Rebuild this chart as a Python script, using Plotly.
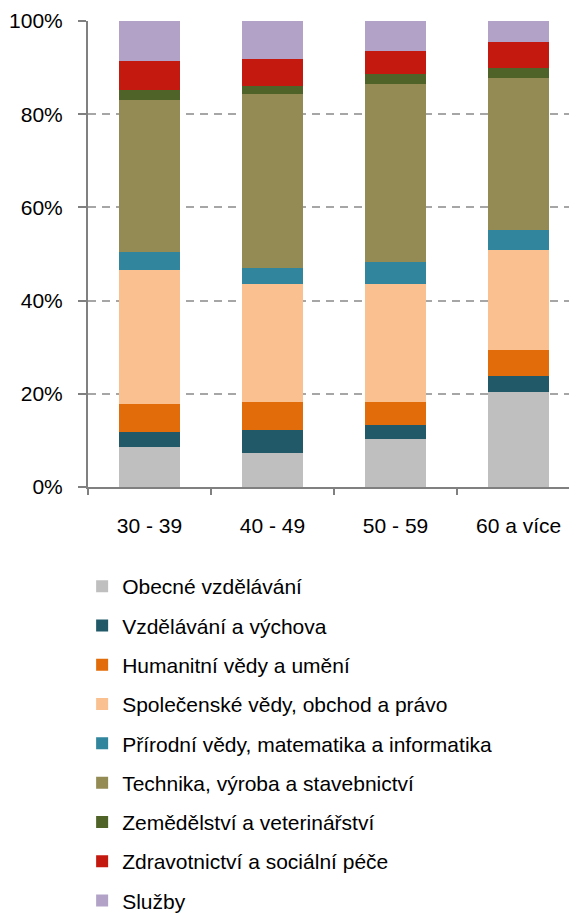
import plotly.graph_objects as go

categories = ['30 - 39', '40 - 49', '50 - 59', '60 a více']

obecne = [8.5, 7.2, 10.2, 20.4]
vzdelavani = [3.4, 5.1, 3.0, 3.5]
humanitni = [6.0, 6.0, 5.1, 5.5]
spolecenske = [28.7, 25.3, 25.3, 21.5]
prirodni = [3.8, 3.4, 4.7, 4.3]
technika = [32.7, 37.3, 38.2, 32.6]
zemedelstvi = [2.1, 1.7, 2.1, 2.1]
zdravotnictvi = [6.3, 5.9, 5.0, 5.5]
sluzby = [8.5, 8.1, 6.4, 4.6]

y_ticks = [0, 20, 40, 60, 80, 100]
y_labels = ['0%', '20%', '40%', '60%', '80%', '100%']

series = [
    ('Obecné vzdělávání', obecne, '#BFBFBF'),
    ('Vzdělávání a výchova', vzdelavani, '#215968'),
    ('Humanitní vědy a umění', humanitni, '#E36C0A'),
    ('Společenské vědy, obchod a právo', spolecenske, '#FAC090'),
    ('Přírodní vědy, matematika a informatika', prirodni, '#31859C'),
    ('Technika, výroba a stavebnictví', technika, '#948A54'),
    ('Zemědělství a veterinářství', zemedelstvi, '#4F6228'),
    ('Zdravotnictví a sociální péče', zdravotnictvi, '#C4190F'),
    ('Služby', sluzby, '#B2A2C7'),
]

font = 'Liberation Sans, Arial, sans-serif'

fig = go.Figure()
for name, values, color in series:
    fig.add_trace(
        go.Bar(
            x=categories,
            y=values,
            name=name,
            legendgroup=name,
            marker=dict(color=color, line=dict(width=0)),
        )
    )

# page body has an 8px margin, so the figure is 8px smaller than the window
fig.update_layout(
    width=569,
    height=905,
    barmode='stack',
    bargap=0.5,
    plot_bgcolor='white',
    paper_bgcolor='white',
    margin=dict(l=80, r=0, t=13, b=426, autoexpand=False),
    font=dict(family=font, size=21, color='black'),
    showlegend=True,
    legend=dict(
        x=-0.012,
        y=-0.1695,
        xanchor='left',
        yanchor='top',
        traceorder='grouped',
        tracegroupgap=9,
        font=dict(size=21),
    ),
)

fig.update_yaxes(
    range=[0, 100],
    tickmode='array',
    tickvals=y_ticks,
    ticktext=y_labels,
    showgrid=True,
    gridcolor='#A6A6A6',
    gridwidth=2,
    griddash='8px,6px',
    zeroline=False,
    showline=True,
    linecolor='#808080',
    linewidth=2,
    ticks='outside',
    ticklen=8,
    tickwidth=2,
    tickcolor='#808080',
    ticklabelstandoff=11,
)

fig.update_xaxes(
    range=[-0.5, 3.475],
    showline=True,
    linecolor='#808080',
    linewidth=2,
    ticks='outside',
    tickson='boundaries',
    ticklen=6,
    tickwidth=2,
    tickcolor='#808080',
    ticklabelstandoff=19,
)

fig.write_html('out.html')
